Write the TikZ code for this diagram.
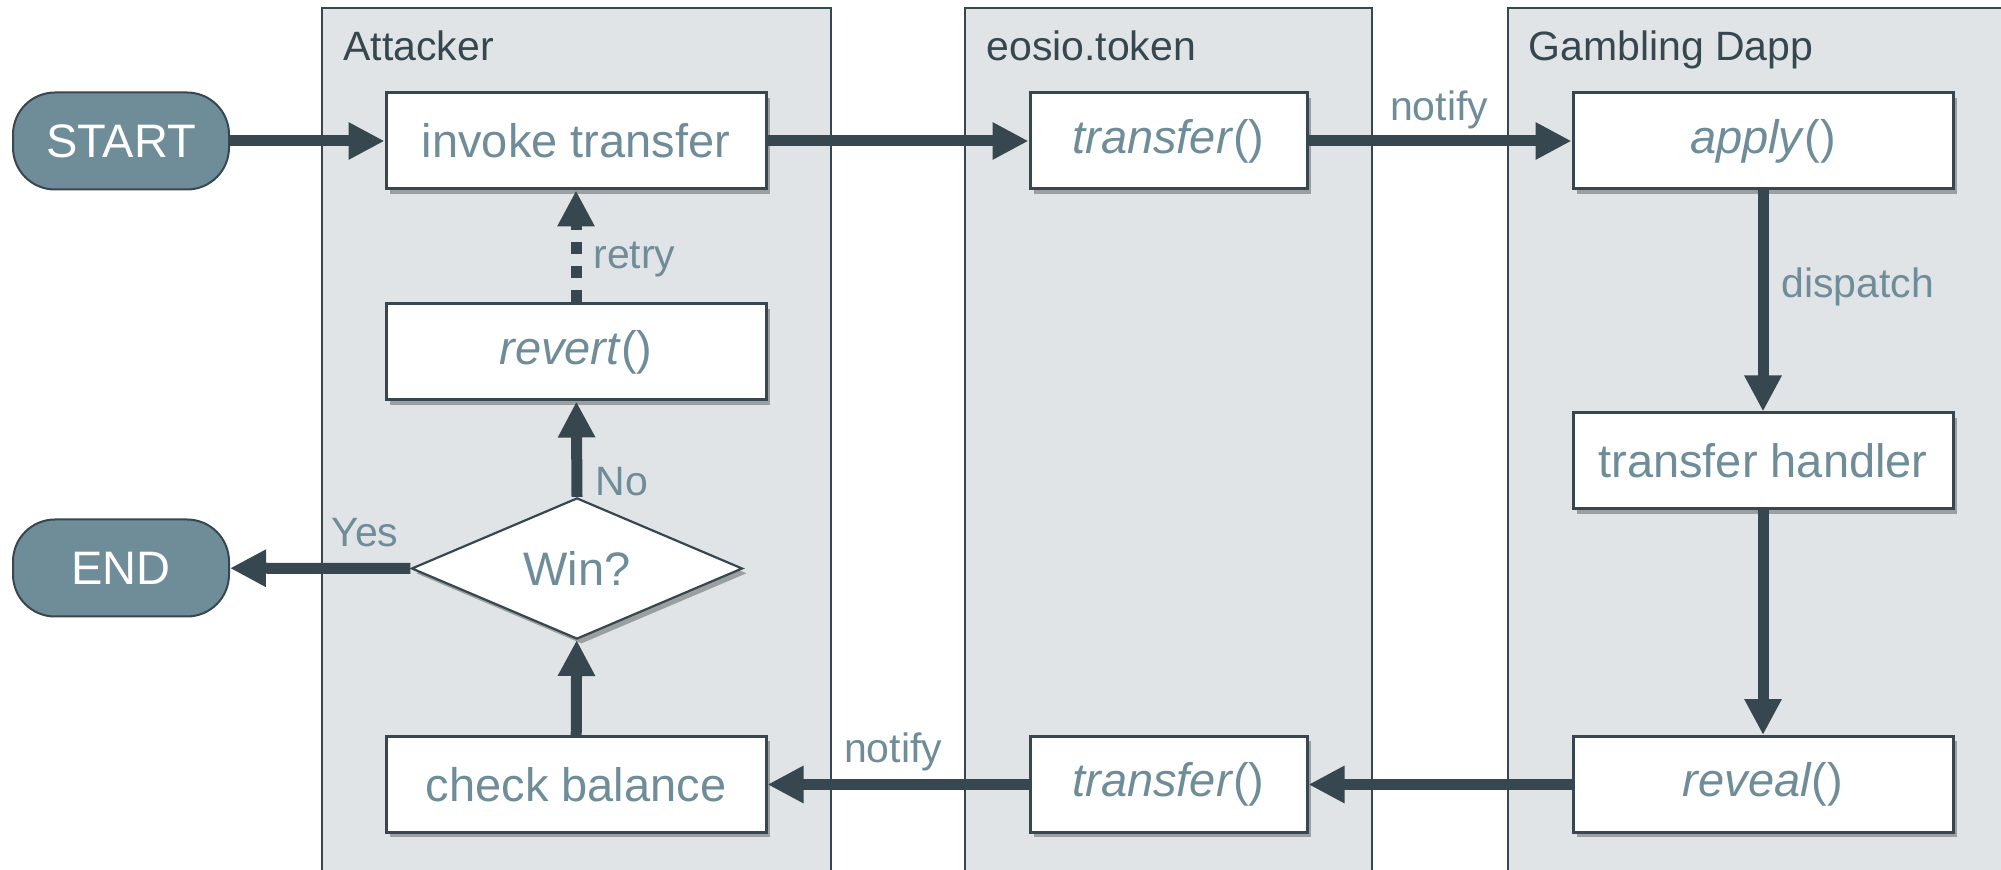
\documentclass[tikz,border=0pt]{standalone}
\usepackage{fontspec}
\setmainfont{Liberation Sans}
\usetikzlibrary{arrows.meta,shapes.geometric,shadows}
\definecolor{dark}{HTML}{37474F}
\definecolor{lanebg}{HTML}{E0E4E6}
\definecolor{steel}{HTML}{6F8D99}
\begin{document}
\begin{tikzpicture}[x=0.5pt,y=-0.5pt,
  lane/.style={draw=dark,line width=1.1pt,fill=lanebg},
  lanetitle/.style={anchor=base west,text=dark,font=\fontsize{20.5}{24}\selectfont,inner sep=0},
  shade/.style={drop shadow={shadow xshift=2.2pt,shadow yshift=-2.4pt,opacity=0.3,fill=black}},
  box/.style={draw=dark,line width=1.5pt,fill=white,minimum width=190pt,minimum height=48pt,text=steel,font=\fontsize{23.5}{28}\selectfont,inner sep=0,shade},
  smallbox/.style={box,minimum width=138.5pt},
  term/.style={draw=dark,line width=1pt,fill=steel,rounded corners=21pt,minimum width=108pt,minimum height=48.5pt,text=white,font=\fontsize{23.5}{28}\selectfont,inner sep=0},
  decision/.style={diamond,draw=dark,line width=1.1pt,fill=white,minimum width=165.5pt,minimum height=70.5pt,inner sep=0,text=steel,font=\fontsize{23.5}{28}\selectfont,shade},
  flow/.style={draw=dark,line width=5.5pt,-{Triangle[length=18pt,width=17.5pt]}},
  lbl/.style={text=steel,font=\fontsize{20.5}{24}\selectfont,inner sep=0}
]
\useasboundingbox (0,0) rectangle (2001,870);
\clip (0,0) rectangle (2001,870);
\fill[white] (0,0) rectangle (2001,870);

% swimlanes
\draw[lane] (322,8) rectangle (831,890);
\draw[lane] (965,8) rectangle (1372,890);
\draw[lane] (1508,8) rectangle (2020,890);
\node[lanetitle] (tA) at (343,61) {Attacker};
\node[lanetitle] (tE) at (986,61) {eosio.token};
\node[lanetitle] (tG) at (1528,61) {Gambling Dapp};

% nodes
\node[term] (start) at (121,141) {START};
\node[term] (end) at (121,568) {END};
\node[box] (invoke) at (576,141) {invoke transfer};
\node[box] (revert) at (576,352) {\textit{revert}()};
\node[decision] (win) at (577,568.5) {Win?};
\node[box] (check) at (576,784.5) {check balance};
\node[smallbox] (t1) at (1168.5,141) {\textit{transfer}()};
\node[smallbox] (t2) at (1168.5,784.5) {\textit{transfer}()};
\node[box] (apply) at (1763,141) {\textit{apply}()};
\node[box] (handler) at (1763,461) {transfer handler};
\node[box] (reveal) at (1763,784.5) {\textit{reveal}()};

% connectors
\draw[flow] (start) -- (invoke);
\draw[flow] (invoke) -- (t1);
\draw[flow] (t1) -- (apply);
\draw[flow] (apply) -- (handler);
\draw[flow] (handler) -- (reveal);
\draw[flow] (reveal) -- (t2);
\draw[flow] (t2) -- (check);
\draw[flow] (check) -- (win);
\draw[flow] (win.north) -- (revert);
\draw[flow,dash pattern=on 6pt off 6pt] (revert) -- (invoke);
\draw[flow] (win.west) -- (end);

% labels
\node[lbl] (lnotify1) at (1439,110) {notify};
\node[lbl] (lnotify2) at (893,752) {notify};
\node[lbl,anchor=west] (lretry) at (593,260) {retry};
\node[lbl,anchor=west] (lno) at (595,482) {No};
\node[lbl] (lyes) at (365,533) {Yes};
\node[lbl,anchor=west] (ldispatch) at (1781,287) {dispatch};
\end{tikzpicture}
\end{document}
